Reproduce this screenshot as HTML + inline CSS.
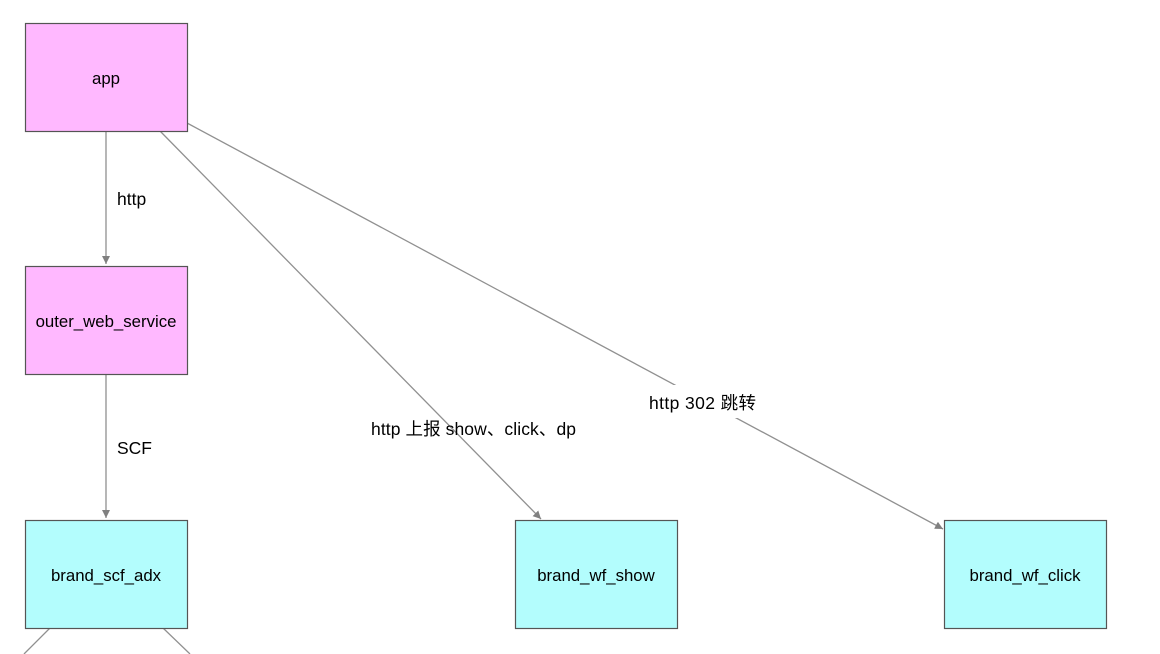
<!DOCTYPE html>
<html><head><meta charset="utf-8"><style>
html,body{margin:0;padding:0;background:#fff;width:1160px;height:654px;overflow:hidden}
svg text{font-family:"Liberation Sans","Noto Sans CJK SC",sans-serif;font-size:16.8px;fill:#000}
svg text.e{font-size:17.5px}
</style></head><body>
<svg width="1160" height="654" viewBox="0 0 1160 654">
<defs><marker id="a" markerWidth="10" markerHeight="10" refX="8" refY="4" orient="auto" markerUnits="userSpaceOnUse"><path d="M0,0 L8,4 L0,8 z" fill="#808080"/></marker></defs>
<g stroke="#909090" stroke-width="1.3" fill="none">
<line x1="106" y1="131" x2="106" y2="264" marker-end="url(#a)"/>
<line x1="106" y1="374" x2="106" y2="518" marker-end="url(#a)"/>
<line x1="160" y1="131" x2="541" y2="519" marker-end="url(#a)"/>
<line x1="187" y1="123" x2="943" y2="529" marker-end="url(#a)"/>
<line x1="50" y1="628" x2="24" y2="654"/>
<line x1="163" y1="628" x2="190" y2="654"/>
</g>
<rect x="640" y="385" width="122" height="33" fill="#fff"/>
<g stroke="#555" stroke-width="1.2">
<rect x="25.5" y="23.5" width="162" height="108" fill="#ffb8ff"/>
<rect x="25.5" y="266.5" width="162" height="108" fill="#ffb8ff"/>
<rect x="25.5" y="520.5" width="162" height="108" fill="#b3fdfd"/>
<rect x="515.5" y="520.5" width="162" height="108" fill="#b3fdfd"/>
<rect x="944.5" y="520.5" width="162" height="108" fill="#b3fdfd"/>
</g>
<g text-anchor="middle">
<text x="106" y="84">app</text>
<text x="106" y="327">outer_web_service</text>
<text x="106" y="581">brand_scf_adx</text>
<text x="596" y="581">brand_wf_show</text>
<text x="1025" y="581">brand_wf_click</text>
</g>
<text class="e" x="117" y="205">http</text>
<text class="e" x="117" y="454">SCF</text>
<text class="e" x="371" y="435" textLength="205">http 上报 show、click、dp</text>
<text class="e" x="649" y="409" textLength="107">http 302 跳转</text>
</svg>
</body></html>
